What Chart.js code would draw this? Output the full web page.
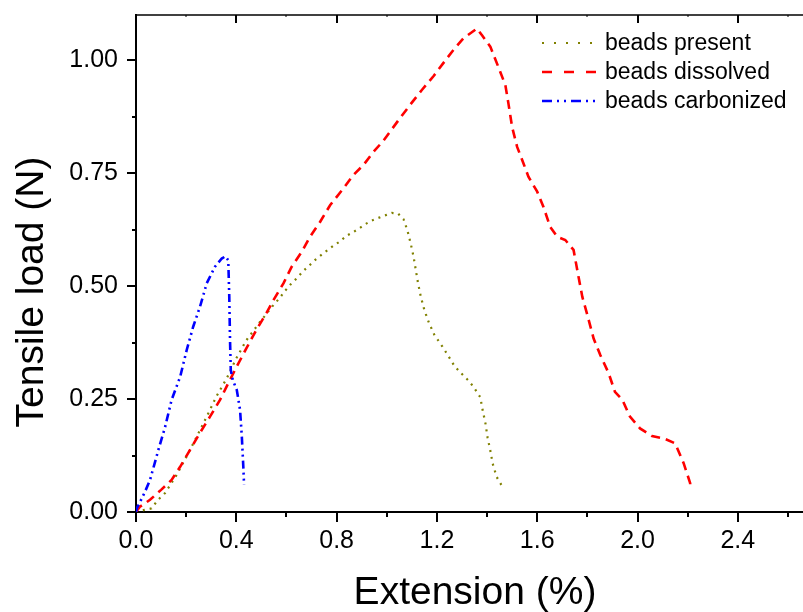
<!DOCTYPE html>
<html>
<head>
<meta charset="utf-8">
<script src="https://cdn.jsdelivr.net/npm/chart.js@4"></script>
<style>
html,body{margin:0;padding:0;background:#fff;}
#wrap{width:803px;height:612px;}
</style>
</head>
<body>
<div id="wrap"><canvas id="c" width="803" height="612"></canvas></div>
<script>
// ---- data ----
const seriesLabels = ['beads present', 'beads dissolved', 'beads carbonized'];

const presentX = [0, 0.03, 0.062, 0.088, 0.116, 0.162, 0.215, 0.255, 0.295, 0.32, 0.362, 0.40, 0.44, 0.495, 0.548, 0.572, 0.595, 0.617, 0.644, 0.668, 0.692, 0.717, 0.744, 0.77, 0.794, 0.814, 0.838, 0.865, 0.891, 0.914, 0.94, 0.967, 0.996, 1.02, 1.044, 1.067, 1.083, 1.096, 1.107, 1.116, 1.125, 1.136, 1.15, 1.168, 1.19, 1.222, 1.246, 1.27, 1.297, 1.324, 1.346, 1.373, 1.383, 1.394, 1.402, 1.413, 1.423, 1.438, 1.459];
const presentY = [0, 0.004, 0.008, 0.027, 0.042, 0.082, 0.137, 0.181, 0.226, 0.255, 0.296, 0.34, 0.38, 0.421, 0.458, 0.473, 0.49, 0.504, 0.519, 0.534, 0.546, 0.559, 0.571, 0.582, 0.592, 0.599, 0.611, 0.619, 0.628, 0.637, 0.645, 0.651, 0.657, 0.662, 0.661, 0.648, 0.622, 0.593, 0.565, 0.535, 0.506, 0.476, 0.447, 0.419, 0.392, 0.366, 0.345, 0.323, 0.307, 0.292, 0.277, 0.254, 0.224, 0.195, 0.165, 0.136, 0.106, 0.078, 0.058];

const dissolvedX = [0, 0.016, 0.056, 0.10, 0.142, 0.176, 0.215, 0.255, 0.295, 0.335, 0.368, 0.40, 0.44, 0.48, 0.52, 0.548, 0.588, 0.621, 0.661, 0.694, 0.734, 0.774, 0.827, 0.867, 0.907, 0.947, 0.987, 1.02, 1.06, 1.10, 1.14, 1.187, 1.233, 1.265, 1.305, 1.36, 1.38, 1.413, 1.445, 1.473, 1.485, 1.5, 1.52, 1.545, 1.565, 1.6, 1.625, 1.652, 1.68, 1.712, 1.745, 1.765, 1.78, 1.8, 1.825, 1.852, 1.885, 1.91, 1.94, 1.97, 2.01, 2.058, 2.104, 2.15, 2.184, 2.21, 2.21];
const dissolvedY = [0, 0.012, 0.027, 0.049, 0.071, 0.10, 0.137, 0.175, 0.211, 0.248, 0.285, 0.32, 0.362, 0.403, 0.44, 0.469, 0.506, 0.543, 0.576, 0.609, 0.642, 0.679, 0.716, 0.746, 0.768, 0.797, 0.822, 0.847, 0.877, 0.906, 0.934, 0.965, 0.999, 1.022, 1.048, 1.07, 1.055, 1.03, 0.985, 0.945, 0.905, 0.852, 0.808, 0.772, 0.742, 0.709, 0.675, 0.631, 0.609, 0.602, 0.58, 0.52, 0.476, 0.436, 0.384, 0.347, 0.307, 0.266, 0.248, 0.211, 0.185, 0.168, 0.163, 0.152, 0.108, 0.064, 0.053];

const carbonizedX = [0, 0.004, 0.016, 0.036, 0.056, 0.089, 0.116, 0.142, 0.176, 0.202, 0.228, 0.255, 0.282, 0.315, 0.342, 0.357, 0.368, 0.372, 0.375, 0.378, 0.386, 0.402, 0.415, 0.422, 0.428, 0.431];
const carbonizedY = [0, 0.009, 0.022, 0.045, 0.071, 0.137, 0.188, 0.248, 0.299, 0.358, 0.41, 0.454, 0.506, 0.543, 0.561, 0.566, 0.557, 0.476, 0.38, 0.314, 0.292, 0.27, 0.226, 0.167, 0.10, 0.060];

const xTickValues = [0, 0.4, 0.8, 1.2, 1.6, 2.0, 2.4];
const yTickValues = [0, 0.25, 0.5, 0.75, 1.0];
const xTitle = 'Extension (%)';
const yTitle = 'Tensile load (N)';

function pts(xs, ys) { return xs.map((x, i) => ({x: x, y: ys[i]})); }

const FONT = '"Liberation Sans", Arial, Helvetica, sans-serif';

const framePlugin = {
  id: 'frame',
  afterDraw(chart) {
    const ctx = chart.ctx;
    const a = chart.chartArea;
    const xs = chart.scales.x, ys = chart.scales.y;
    ctx.save();
    ctx.strokeStyle = '#000';
    // top axis line
    ctx.lineWidth = 1.5;
    ctx.beginPath();
    ctx.moveTo(a.left, a.top);
    ctx.lineTo(a.right, a.top);
    ctx.stroke();
    // x ticks (bottom outward, top inward)
    for (let v = 0; v <= xs.max + 1e-9; v += 0.2) {
      const major = Math.abs(v / 0.4 - Math.round(v / 0.4)) < 1e-6;
      const px = Math.round(xs.getPixelForValue(v));
      ctx.lineWidth = 2;
      ctx.beginPath();
      ctx.moveTo(px, a.bottom);
      ctx.lineTo(px, a.bottom + (major ? 10 : 5));
      ctx.stroke();
      ctx.beginPath();
      ctx.lineWidth = major ? 2 : 1;
      ctx.moveTo(px, a.top);
      ctx.lineTo(px, a.top + (major ? 8 : 2));
      ctx.stroke();
    }
    // y ticks
    ctx.lineWidth = 2;
    for (let v = 0; v <= ys.max + 1e-9; v += 0.125) {
      const major = Math.abs(v / 0.25 - Math.round(v / 0.25)) < 1e-6;
      const py = Math.round(ys.getPixelForValue(v));
      ctx.beginPath();
      ctx.moveTo(a.left, py);
      ctx.lineTo(a.left - (major ? 9 : 4), py);
      ctx.stroke();
    }
    // axis titles
    ctx.fillStyle = '#000';
    ctx.font = '39px ' + FONT;
    ctx.textAlign = 'center';
    ctx.textBaseline = 'alphabetic';
    ctx.fillText(xTitle, 475, 604);
    ctx.save();
    ctx.translate(43, 292);
    ctx.rotate(-Math.PI / 2);
    ctx.fillText(yTitle, 0, 0);
    ctx.restore();
    // legend
    ctx.font = '23px ' + FONT;
    ctx.textAlign = 'left';
    ctx.textBaseline = 'middle';
    chart.data.datasets.forEach((ds, i) => {
      const y = 43 + i * 29;
      ctx.save();
      ctx.strokeStyle = ds.borderColor;
      ctx.lineWidth = ds.borderWidth;
      ctx.setLineDash(ds.legendDash || ds.borderDash || []);
      ctx.beginPath();
      ctx.moveTo(542, y);
      ctx.lineTo(597, y);
      ctx.stroke();
      ctx.restore();
      ctx.fillText(ds.label, 605, y + 1);
    });
    ctx.restore();
  }
};

new Chart(document.getElementById('c'), {
  type: 'scatter',
  data: {
    datasets: [
      {label: seriesLabels[0], data: pts(presentX, presentY), borderColor: '#808000', borderWidth: 2.2, borderDash: [2, 5], legendDash: [2, 10], order: 2},
      {label: seriesLabels[1], data: pts(dissolvedX, dissolvedY), borderColor: '#ff0000', borderWidth: 2.6, borderDash: [9, 6], legendDash: [10, 12], order: 1},
      {label: seriesLabels[2], data: pts(carbonizedX, carbonizedY), borderColor: '#0000ff', borderWidth: 2.6, borderDash: [8, 4, 2, 4, 2, 4], legendDash: [10, 5, 2, 5, 2, 5], order: 0}
    ].map(d => Object.assign(d, {showLine: true, pointRadius: 0, pointHoverRadius: 0, tension: 0, fill: false}))
  },
  options: {
    responsive: false,
    animation: false,
    events: [],
    layout: {padding: {top: 15, right: 0, left: 0, bottom: 0}},
    plugins: {legend: {display: false}, tooltip: {enabled: false}},
    scales: {
      x: {
        type: 'linear', min: 0, max: 2.66,
        afterFit(s) { s.height = 100; s.paddingLeft = 0; s.paddingRight = 0; },
        afterBuildTicks(s) { s.ticks = xTickValues.map(v => ({value: v})); },
        grid: {display: true, drawOnChartArea: false, drawTicks: false},
        border: {display: true, color: '#000', width: 2},
        ticks: {padding: 14, color: '#000', font: {family: FONT, size: 25}, maxRotation: 0, autoSkip: false,
          callback: v => Number(v).toFixed(1)}
      },
      y: {
        type: 'linear', min: 0, max: 1.1,
        afterFit(s) { s.width = 136; s.paddingTop = 0; s.paddingBottom = 0; },
        afterBuildTicks(s) { s.ticks = yTickValues.map(v => ({value: v})); },
        grid: {display: true, drawOnChartArea: false, drawTicks: false},
        border: {display: true, color: '#000', width: 2},
        ticks: {padding: 18, color: '#000', font: {family: FONT, size: 25}, autoSkip: false,
          callback: v => Number(v).toFixed(2)}
      }
    }
  },
  plugins: [framePlugin]
});
</script>
</body>
</html>
